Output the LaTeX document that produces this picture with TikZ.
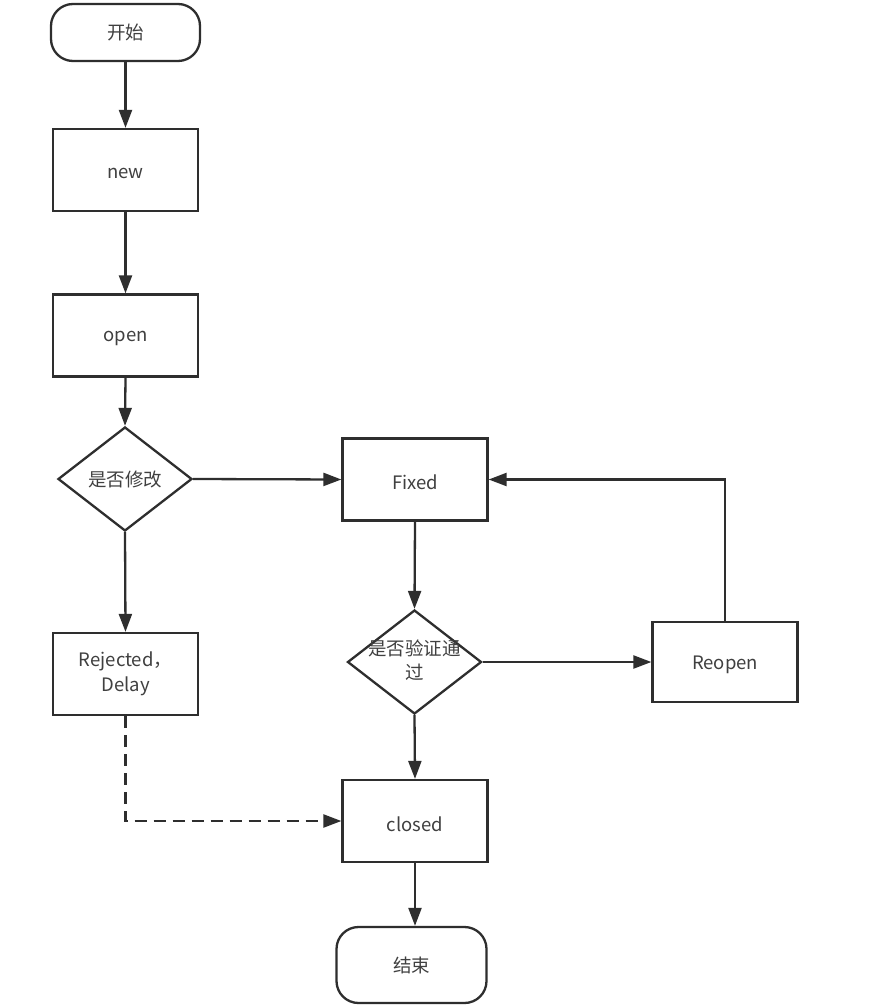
\documentclass[tikz,border=0pt]{standalone}
\usepackage{fontspec}
\setmainfont{Noto Sans CJK SC}
\usetikzlibrary{shapes.geometric,arrows.meta}
\definecolor{ink}{HTML}{2E2E2E}
\definecolor{txtc}{HTML}{404040}
\newcommand{\lowr}[1]{\raisebox{-3pt}[\height][\depth]{#1}}
\tikzset{
  base/.style={draw=ink, line width=2.3pt, fill=white, text=txtc, font=\fontsize{18.5}{25}\selectfont, inner sep=0pt},
  terminal/.style={base, rounded corners=22pt, minimum width=149pt},
  procbox/.style={base, minimum width=145pt, minimum height=82pt, align=center},
  decision/.style={base, diamond, aspect=1.29, minimum width=134pt, minimum height=104pt},
  txt/.style={text=txtc, font=\fontsize{18.5}{24}\selectfont, inner sep=0pt, align=center},
  conn/.style={draw=ink, line width=2.3pt, -{Triangle[length=18pt,width=13pt]}},
  dconn/.style={conn, dash pattern=on 12pt off 7pt}
}
\begin{document}
\begin{tikzpicture}[x=1pt,y=-1pt]
\useasboundingbox[fill=white] (0,0) rectangle (875,1008);
\node[terminal, minimum height=57pt] (start) at (125.5,32.5) {开始};
\node[procbox] (new) at (125.5,170) {\lowr{new}};
\node[procbox] (open) at (125.5,335.5) {\lowr{open}};
\node[decision] (d1) at (125,479) {};
\node[txt] (d1t) at (d1) {是否修改};
\node[procbox] (fixed) at (415,479.5) {\lowr{Fixed}};
\node[decision] (d2) at (414.5,662) {};
\node[txt] (d2t) at (414.5,660) {是否验证通\\过};
\node[procbox, minimum height=80pt] (reopen) at (725,662) {\lowr{Reopen}};
\node[procbox] (rej) at (125.5,674) {Rejected，\\Delay};
\node[procbox] (closed) at (415,821) {\lowr{closed}};
\node[terminal, minimum width=150pt, minimum height=76pt] (end) at (411.5,965) {结束};

\draw[conn] (start.south) -- (new.north);
\draw[conn] (new.south) -- (open.north);
\draw[conn] (open.south) -- (d1.north);
\draw[conn] (d1.east) -- (fixed.west);
\draw[conn] (d1.south) -- (rej.north);
\draw[conn] (fixed.south) -- (d2.north);
\draw[conn] (d2.east) -- (reopen.west);
\draw[conn] (d2.south) -- (closed.north);
\draw[conn] (closed.south) -- (closed.south |- end.north);
\draw[conn] (reopen.north) |- (fixed.east);
\draw[dconn] (rej.south) |- (closed.west);
\end{tikzpicture}
\end{document}
